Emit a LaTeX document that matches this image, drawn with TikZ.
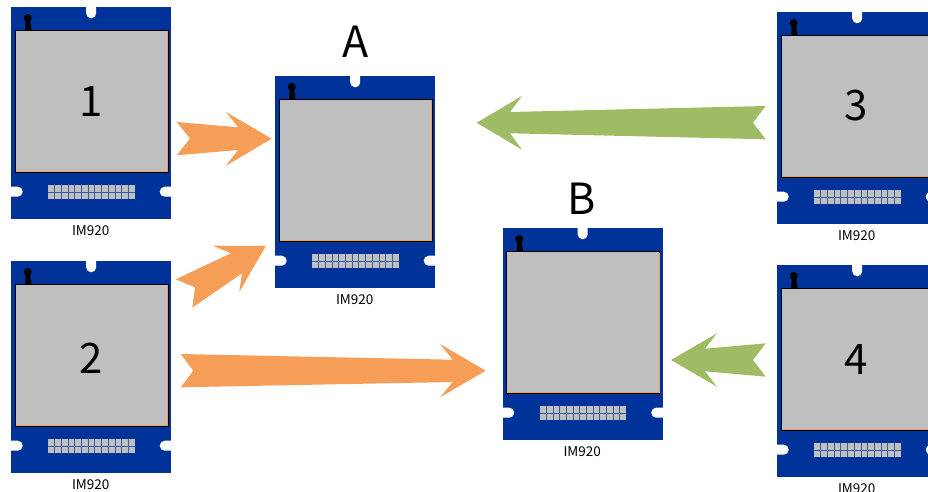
\documentclass[tikz,border=0pt]{standalone}
\usepackage{fontspec}
\setmainfont{Noto Sans CJK JP}
\definecolor{boardblue}{HTML}{003399}
\definecolor{chipgray}{HTML}{BFBFBF}
\definecolor{arroworange}{HTML}{F69E58}
\definecolor{arrowgreen}{HTML}{9FBC65}
\tikzset{
  board/.style={fill=boardblue,draw=none},
  notch/.style={fill=white,draw=none},
  chip/.style={fill=chipgray,draw=black,line width=0.9pt},
  pads/.style={fill=chipgray,draw=none},
  padline/.style={draw=boardblue!70!chipgray,line width=0.4pt},
  orangearrow/.style={fill=arroworange,draw=none},
  greenarrow/.style={fill=arrowgreen,draw=none},
  modlabel/.style={font=\fontsize{13.5}{15}\selectfont,inner sep=0pt},
  bignum/.style={font=\fontsize{42}{44}\selectfont,inner sep=0pt},
  bigletter/.style={font=\fontsize{43}{45}\selectfont,inner sep=0pt},
  module/.pic={
    \path[board] (0,0) rectangle (160,212);
    \path[notch] (75,-1) -- (75,6.3) arc[start angle=180,end angle=0,radius=5] -- (85,-1) -- cycle;
    \path[notch] (-1,179.7) -- (6.5,179.7) arc[start angle=-90,end angle=90,radius=5] -- (-1,189.7) -- cycle;
    \path[notch] (161,179.7) -- (153.5,179.7) arc[start angle=-90,end angle=-270,radius=5] -- (161,189.7) -- cycle;
    \fill[black] (16.5,11) circle[radius=4];
    \fill[black] (14.5,11) -- (18.5,11) -- (20.5,24) -- (14,24) -- cycle;
    \path[chip] (4,23.5) rectangle (157,165.5);
    \draw[arroworange,line width=0.7pt] (4.8,164.7) -- (156.2,164.7) -- (156.2,24.5);
    \path[pads] (36.8,178) rectangle (123.5,191.7);
    \foreach \i in {1,...,12} {\draw[padline] ({36.8+\i*6.67},178) -- ({36.8+\i*6.67},191.7);}
    \draw[padline] (36.8,184.85) -- (123.5,184.85);
    \node[modlabel] (-name) at (79.5,223.3) {IM920};
  }
}
\begin{document}
\begin{tikzpicture}[x=1pt,y=-1pt]
\useasboundingbox (0,0) rectangle (928,492);
\pic (m1) at (11.2,7) {module};
\pic (m2) at (11.2,261) {module};
\pic (mA) at (275.2,76) {module};
\pic (mB) at (502.7,228) {module};
\pic (m3) at (777.2,12) {module};
\pic (m4) at (777.2,265) {module};
\node[bignum] (n1) at (91,102) {1};
\node[bignum] (n2) at (91,358) {2};
\node[bignum] (n3) at (856,106) {3};
\node[bignum] (n4) at (856,360) {4};
\node[bigletter] (lA) at (355.5,42) {A};
\node[bigletter] (lB) at (582,199) {B};
\path[orangearrow] (176.7,122) -- (190,138.5) -- (176.7,155.3) -- (238,150) -- (226,165.7) -- (271.7,138.7) -- (226,112) -- (238.3,127.3) -- cycle;
\path[orangearrow] (265.7,246) -- (212.7,245.7) -- (231,253.3) -- (175.7,279.3) -- (195,287.3) -- (192.3,307.7) -- (242,273.3) -- (239.3,292) -- cycle;
\path[orangearrow] (180.7,354) -- (193.3,370.7) -- (180.7,387.3) -- (452.7,382) -- (440,397.3) -- (485.7,370.7) -- (440,344) -- (452.7,359.7) -- cycle;
\path[greenarrow] (476.7,122.7) -- (522,96) -- (510,112) -- (765.7,106) -- (753,122.7) -- (765.7,139.3) -- (510,133.3) -- (522,149.7) -- cycle;
\path[greenarrow] (671,360) -- (717,333.3) -- (705,348.7) -- (765.7,343.3) -- (753,360) -- (765.7,376.7) -- (705,371.3) -- (717,386.7) -- cycle;
\end{tikzpicture}
\end{document}
